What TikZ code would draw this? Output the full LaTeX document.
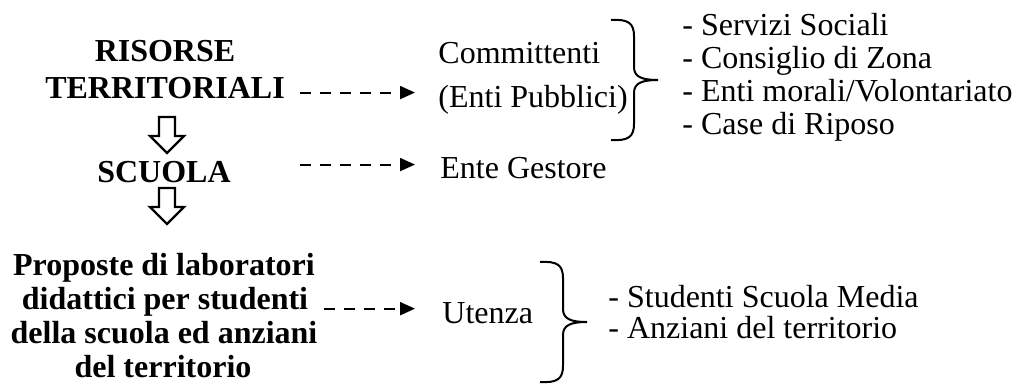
\documentclass[tikz,border=0pt]{standalone}
\usepackage{fontspec}
\setmainfont{Liberation Serif}
\usetikzlibrary{arrows.meta,calc}

\begin{document}
\begin{tikzpicture}[x=0.5pt,y=-0.5pt,
	testo/.style={font=\fontsize{16}{16}\selectfont, inner sep=0pt, anchor=base west},
	titolo/.style={font=\fontsize{16}{16}\selectfont\bfseries, inner sep=0pt, anchor=base},
	tratteggio/.style={line width=1pt, dash pattern=on 5.5pt off 4.5pt, -{Triangle[length=7.5pt,width=6.5pt]}},
	freccia/.pic={\draw[line width=1.2pt, line join=miter] (-8,-18) -- (8,-18) -- (8,1) -- (17,1) -- (0,18) -- (-17,1) -- (-8,1) -- cycle;},
	graffa/.pic={\draw[line width=1pt] (-47,-60) .. controls (-30,-61) and (-24,-57) .. (-24,-44) -- (-24,-13) .. controls (-24,-3) and (-16,0) .. (0,0) .. controls (-16,0) and (-24,3) .. (-24,13) -- (-24,44) .. controls (-24,57) and (-30,61) .. (-47,60);}
]
	\useasboundingbox (0,0) rectangle (1016,391);
	
	%colonna sinistra
	\node[titolo] (ris) at (165,61) {RISORSE};
	\node[titolo] (terr) at (165,98) {TERRITORIALI};
	\node[titolo] (scuola) at (164,182) {SCUOLA};
	\node[titolo] (prop1) at (164,275) {Proposte di laboratori};
	\node[titolo] (prop2) at (165,309) {didattici per studenti};
	\node[titolo] (prop3) at (164,343) {della scuola ed anziani};
	\node[titolo] (prop4) at (163,377) {del territorio};
	
	\pic at (167,135) {freccia}; %freccia 1
	\pic at (167,206) {freccia}; %freccia 2
	
	%colonna centrale
	\node[testo] (comm) at (438,63) {Committenti};
	\node[testo] (enti) at (438,107) {(Enti Pubblici)};
	\node[testo] (gest) at (440,178) {Ente Gestore};
	\node[testo] (uten) at (442,323) {Utenza};
	
	%frecce tratteggiate
	\draw[tratteggio] ($(terr.east)+(15,5)$) -- ($(terr.east -| comm.west)+(-23,5)$);
	\draw[tratteggio] ($(terr.east |- gest.west)+(15,-3)$) -- ($(gest.west)+(-25,-3)$);
	\draw[tratteggio] ($(prop2.east |- uten.west)+(15,-4)$) -- ($(uten.west)+(-27,-4)$);
	
	%graffe
	\pic at (658,80) {graffa};
	\pic at (587,322) {graffa};
	
	%elenchi a destra
	\node[testo] (serv) at (682,35) {- Servizi Sociali};
	\node[testo] (cons) at (682,68) {- Consiglio di Zona};
	\node[testo] (mor) at (682,101) {- Enti morali/Volontariato};
	\node[testo] (case) at (682,134) {- Case di Riposo};
	\node[testo] (stud) at (608,307) {- Studenti Scuola Media};
	\node[testo] (anz) at (608,338) {- Anziani del territorio};
	
\end{tikzpicture}
\end{document}
